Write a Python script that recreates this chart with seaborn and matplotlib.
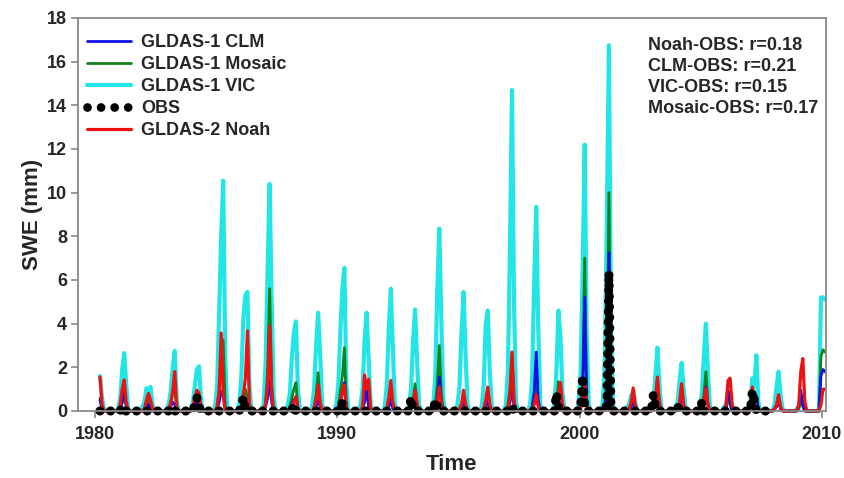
import numpy as np
import pandas as pd
import matplotlib
matplotlib.use("Agg")
import matplotlib.pyplot as plt
from matplotlib.lines import Line2D
import seaborn as sns

nan = np.nan

# Monthly snow water equivalent (mm), one row per year (Jan..Dec), 1980-2009,
# followed by Jan-Feb 2010.
years = list(range(1980, 2010))

vic = [
    [nan, nan, 1.6, 0.6, 0.1, 0, 0, 0, 0, 0, 0, 0.1],
    [0.6, 1.9, 2.65, 1.2, 0.1, 0, 0, 0, 0, 0, 0, 0.2],
    [0.4, 1.05, 0.85, 1.1, 0.3, 0, 0, 0, 0, 0, 0, 0.1],
    [0.3, 0.9, 2.0, 2.75, 0.5, 0, 0, 0, 0, 0, 0, 0.1],
    [0.4, 1.2, 1.9, 2.05, 0.5, 0, 0, 0, 0, 0, 0, 0.2],
    [1.2, 4.5, 8.0, 10.55, 2.5, 0, 0, 0, 0, 0, 0, 0.4],
    [1.6, 4.3, 5.3, 5.45, 1.2, 0, 0, 0, 0, 0, 0, 0.3],
    [2.2, 6.5, 10.4, 5.0, 0.6, 0, 0, 0, 0, 0, 0, 0.3],
    [0.8, 2.4, 3.6, 4.1, 1.0, 0, 0, 0, 0, 0, 0, 0.2],
    [1.0, 3.0, 4.5, 2.6, 0.3, 0, 0, 0, 0, 0, 0, 0.3],
    [1.2, 3.6, 5.6, 6.55, 1.2, 0, 0, 0, 0, 0, 0, 0.3],
    [1.0, 3.2, 4.5, 2.4, 0.3, 0, 0, 0, 0, 0, 0, 0.2],
    [1.2, 3.8, 5.6, 2.8, 0.3, 0, 0, 0, 0, 0, 0, 0.3],
    [1.0, 3.2, 4.65, 2.3, 0.3, 0, 0, 0, 0, 0, 0, 0.2],
    [1.6, 5.5, 8.35, 4.2, 0.5, 0, 0, 0, 0, 0, 0, 0.3],
    [1.1, 3.6, 5.45, 2.6, 0.3, 0, 0, 0, 0, 0, 0, 0.2],
    [1.2, 4.0, 4.6, 1.8, 0.2, 0, 0, 0, 0, 0, 0, 0.3],
    [2.0, 7.5, 14.7, 5.0, 0.4, 0, 0, 0, 0, 0, 0, 0.3],
    [1.6, 6.0, 9.35, 3.8, 0.3, 0, 0, 0, 0, 0, 0, 0.3],
    [1.8, 4.6, 3.4, 0.8, 0.1, 0, 0, 0, 0, 0, 0, 0.4],
    [1.8, 6.5, 12.2, 3.5, 0.3, 0, 0, 0, 0, 0, 0, 0.4],
    [2.5, 9.0, 16.75, 4.0, 0.3, 0, 0, 0, 0, 0, 0, 0.2],
    [0.3, 0.7, 0.9, 0.4, 0, 0, 0, 0, 0, 0, 0, 0.1],
    [0.5, 1.6, 2.9, 1.2, 0.1, 0, 0, 0, 0, 0, 0, 0.2],
    [0.4, 1.4, 2.2, 1.0, 0.1, 0, 0, 0, 0, 0, 0, 0.2],
    [0.8, 2.5, 4.0, 1.8, 0.2, 0, 0, 0, 0, 0, 0, 0.2],
    [0.3, 0.9, 0.6, 0.2, 0, 0, 0, 0, 0, 0, 0, 0],
    [0.4, 1.5, 1.1, 2.55, 0.4, 0, 0, 0, 0, 0, 0, 0],
    [0.3, 1.1, 1.8, 0.7, 0.1, 0, 0, 0, 0, 0, 0, 0.1],
    [0.2, 0.6, 0.4, 0.1, 0, 0, 0, 0, 0, 0, 0, 5.2],
    [5.2, 5.1],
]

mosaic = [
    [nan, nan, 0.6, 0.1, 0, 0, 0, 0, 0, 0, 0, 0],
    [0.1, 0.4, 1.0, 0.2, 0, 0, 0, 0, 0, 0, 0, 0],
    [0.1, 0.3, 0.5, 0.2, 0, 0, 0, 0, 0, 0, 0, 0],
    [0.1, 0.4, 0.8, 1.0, 0.1, 0, 0, 0, 0, 0, 0, 0],
    [0.1, 0.3, 0.7, 0.5, 0, 0, 0, 0, 0, 0, 0, 0],
    [0.2, 1.0, 2.0, 3.25, 0.2, 0, 0, 0, 0, 0, 0, 0],
    [0.2, 0.6, 1.0, 0.6, 0, 0, 0, 0, 0, 0, 0, 0],
    [0.4, 1.8, 5.6, 1.2, 0, 0, 0, 0, 0, 0, 0, 0],
    [0.2, 0.6, 1.0, 1.3, 0.1, 0, 0, 0, 0, 0, 0, 0],
    [0.2, 0.7, 1.75, 0.4, 0, 0, 0, 0, 0, 0, 0, 0],
    [0.2, 0.9, 1.6, 2.9, 0.2, 0, 0, 0, 0, 0, 0, 0],
    [0.2, 0.6, 1.2, 0.4, 0, 0, 0, 0, 0, 0, 0, 0],
    [0.1, 0.4, 0.9, 0.3, 0, 0, 0, 0, 0, 0, 0, 0],
    [0.1, 0.5, 1.25, 0.4, 0, 0, 0, 0, 0, 0, 0, 0],
    [0.3, 1.2, 3.0, 0.8, 0, 0, 0, 0, 0, 0, 0, 0],
    [0.1, 0.3, 0.6, 0.2, 0, 0, 0, 0, 0, 0, 0, 0],
    [0.1, 0.4, 0.9, 0.2, 0, 0, 0, 0, 0, 0, 0, 0],
    [0.3, 1.0, 2.6, 0.5, 0, 0, 0, 0, 0, 0, 0, 0],
    [0.2, 0.6, 1.4, 0.3, 0, 0, 0, 0, 0, 0, 0, 0],
    [0.2, 1.35, 0.6, 0.1, 0, 0, 0, 0, 0, 0, 0, 0],
    [0.3, 1.2, 7.0, 0.4, 0, 0, 0, 0, 0, 0, 0, 0],
    [0.4, 1.5, 10.0, 0.5, 0, 0, 0, 0, 0, 0, 0, 0],
    [0.1, 0.3, 0.5, 0.1, 0, 0, 0, 0, 0, 0, 0, 0],
    [0.1, 0.5, 1.5, 0.3, 0, 0, 0, 0, 0, 0, 0, 0],
    [0.1, 0.4, 1.0, 0.2, 0, 0, 0, 0, 0, 0, 0, 0],
    [0.2, 0.7, 1.8, 0.4, 0, 0, 0, 0, 0, 0, 0, 0],
    [0.1, 0.6, 0.3, 0, 0, 0, 0, 0, 0, 0, 0, 0],
    [0.1, 0.3, 0.4, 0.6, 0.1, 0, 0, 0, 0, 0, 0, 0],
    [0.1, 0.2, 0.4, 0.1, 0, 0, 0, 0, 0, 0, 0, 0],
    [0.1, 0.5, 0.2, 0, 0, 0, 0, 0, 0, 0, 0, 2.5],
    [2.8, 2.7],
]

clm = [
    [nan, nan, 0.5, 0.1, 0, 0, 0, 0, 0, 0, 0, 0],
    [0.1, 0.4, 0.9, 0.2, 0, 0, 0, 0, 0, 0, 0, 0],
    [0.1, 0.2, 0.3, 0.1, 0, 0, 0, 0, 0, 0, 0, 0],
    [0.1, 0.2, 0.4, 0.3, 0, 0, 0, 0, 0, 0, 0, 0],
    [0.1, 0.2, 0.5, 0.3, 0, 0, 0, 0, 0, 0, 0, 0],
    [0.1, 0.4, 0.9, 0.8, 0.1, 0, 0, 0, 0, 0, 0, 0],
    [0.1, 0.3, 0.5, 0.3, 0, 0, 0, 0, 0, 0, 0, 0],
    [0.2, 0.6, 1.4, 0.4, 0, 0, 0, 0, 0, 0, 0, 0],
    [0.1, 0.3, 0.5, 0.65, 0.1, 0, 0, 0, 0, 0, 0, 0],
    [0.1, 0.2, 0.5, 0.2, 0, 0, 0, 0, 0, 0, 0, 0],
    [0.1, 0.4, 0.8, 1.3, 0.1, 0, 0, 0, 0, 0, 0, 0],
    [0.1, 0.4, 0.95, 0.2, 0, 0, 0, 0, 0, 0, 0, 0],
    [0.1, 0.2, 0.5, 0.1, 0, 0, 0, 0, 0, 0, 0, 0],
    [0.1, 0.2, 0.6, 0.2, 0, 0, 0, 0, 0, 0, 0, 0],
    [0.2, 0.6, 1.55, 0.4, 0, 0, 0, 0, 0, 0, 0, 0],
    [0.1, 0.2, 0.4, 0.1, 0, 0, 0, 0, 0, 0, 0, 0],
    [0.1, 0.2, 0.5, 0.1, 0, 0, 0, 0, 0, 0, 0, 0],
    [0.1, 0.4, 1.0, 0.2, 0, 0, 0, 0, 0, 0, 0, 0],
    [0.2, 0.9, 2.7, 0.5, 0, 0, 0, 0, 0, 0, 0, 0],
    [0.1, 0.5, 0.3, 0, 0, 0, 0, 0, 0, 0, 0, 0],
    [0.2, 0.8, 5.2, 0.3, 0, 0, 0, 0, 0, 0, 0, 0],
    [0.3, 1.0, 7.25, 0.4, 0, 0, 0, 0, 0, 0, 0, 0],
    [0.1, 0.2, 0.4, 0.1, 0, 0, 0, 0, 0, 0, 0, 0],
    [0.1, 0.3, 0.9, 0.2, 0, 0, 0, 0, 0, 0, 0, 0],
    [0.1, 0.3, 0.7, 0.1, 0, 0, 0, 0, 0, 0, 0, 0],
    [0.1, 0.4, 1.1, 0.2, 0, 0, 0, 0, 0, 0, 0, 0],
    [0.2, 0.95, 0.4, 0, 0, 0, 0, 0, 0, 0, 0, 0],
    [0.1, 0.2, 0.4, 0.7, 0.1, 0, 0, 0, 0, 0, 0, 0],
    [0.1, 0.2, 0.5, 0.1, 0, 0, 0, 0, 0, 0, 0, 0],
    [0.2, 0.95, 0.3, 0, 0, 0, 0, 0, 0, 0, 0, 1.6],
    [1.9, 1.8],
]

noah = [
    [nan, nan, 1.55, 0.3, 0, 0, 0, 0, 0, 0, 0, 0],
    [0.3, 1.0, 1.42, 0.4, 0, 0, 0, 0, 0, 0, 0, 0],
    [0.1, 0.5, 0.8, 0.5, 0.1, 0, 0, 0, 0, 0, 0, 0],
    [0.1, 0.3, 0.9, 1.8, 0.2, 0, 0, 0, 0, 0, 0, 0],
    [0.2, 0.6, 0.95, 0.8, 0.2, 0, 0, 0, 0, 0, 0, 0],
    [0.2, 0.9, 3.57, 0.7, 0, 0, 0, 0, 0, 0, 0, 0],
    [0.2, 0.8, 1.5, 3.67, 0.3, 0, 0, 0, 0, 0, 0, 0],
    [0.3, 1.2, 3.9, 0.8, 0, 0, 0, 0, 0, 0, 0, 0],
    [0.1, 0.2, 0.4, 0.65, 0.1, 0, 0, 0, 0, 0, 0, 0],
    [0.1, 0.5, 1.2, 0.4, 0, 0, 0, 0, 0, 0, 0, 0],
    [0.1, 0.4, 0.9, 1.2, 0.1, 0, 0, 0, 0, 0, 0, 0],
    [0.2, 1.65, 1.0, 1.45, 0.1, 0, 0, 0, 0, 0, 0, 0],
    [0.1, 0.6, 1.4, 0.4, 0, 0, 0, 0, 0, 0, 0, 0],
    [0.1, 0.3, 0.95, 0.3, 0, 0, 0, 0, 0, 0, 0, 0],
    [0.1, 0.4, 1.1, 0.3, 0, 0, 0, 0, 0, 0, 0, 0],
    [0.1, 0.3, 0.95, 0.3, 0, 0, 0, 0, 0, 0, 0, 0],
    [0.1, 0.5, 1.1, 0.3, 0, 0, 0, 0, 0, 0, 0, 0],
    [0.1, 0.7, 2.7, 0.5, 0, 0, 0, 0, 0, 0, 0, 0],
    [0.1, 0.3, 0.75, 0.2, 0, 0, 0, 0, 0, 0, 0, 0],
    [0.2, 0.8, 1.3, 0.3, 0, 0, 0, 0, 0, 0, 0, 0],
    [0.1, 0.5, 1.3, 0.3, 0, 0, 0, 0, 0, 0, 0, 0],
    [0.1, 0.3, 0.55, 0.1, 0, 0, 0, 0, 0, 0, 0, 0],
    [0.1, 0.4, 1.05, 0.3, 0, 0, 0, 0, 0, 0, 0, 0],
    [0.1, 0.5, 1.55, 0.4, 0, 0, 0, 0, 0, 0, 0, 0],
    [0.1, 0.4, 1.25, 0.3, 0, 0, 0, 0, 0, 0, 0, 0],
    [0.1, 0.4, 1.05, 0.3, 0, 0, 0, 0, 0, 0, 0, 0],
    [0.3, 1.4, 1.5, 0.3, 0, 0, 0, 0, 0, 0, 0, 0],
    [0.2, 1.1, 0.5, 0.1, 0, 0, 0, 0, 0, 0, 0, 0],
    [0.1, 0.3, 0.75, 0.2, 0, 0, 0, 0, 0, 0, 0, 0],
    [0.3, 1.8, 2.4, 0.4, 0, 0, 0, 0, 0, 0, 0, 0.3],
    [1.0, 1.0],
]

obs = [
    [nan, nan, 0, 0, 0, 0, 0, 0, 0, 0, 0, 0],
    [0, 0.2, 0, 0, 0, 0, 0, 0, 0, 0, 0, 0],
    [0, 0, 0, 0, 0, 0, 0, 0, 0, 0, 0, 0],
    [0, 0, 0.15, 0, 0, 0, 0, 0, 0, 0, 0, 0],
    [0, 0.3, 0.6, 0.2, 0, 0, 0, 0, 0, 0, 0, 0],
    [0, 0, 0, 0, 0, 0, 0, 0, 0, 0, 0, 0],
    [0.3, 0.6, 0.1, 0, 0, 0, 0, 0, 0, 0, 0, 0],
    [0, 0, 0, 0, 0, 0, 0, 0, 0, 0, 0, 0],
    [0, 0, 0.3, 0, 0, 0, 0, 0, 0, 0, 0, 0],
    [0, 0, 0, 0, 0, 0, 0, 0, 0, 0, 0, 0],
    [0, 0, 0.4, 0, 0, 0, 0, 0, 0, 0, 0, 0],
    [0, 0, 0, 0, 0, 0, 0, 0, 0, 0, 0, 0],
    [0, 0, 0, 0, 0, 0, 0, 0, 0, 0, 0, 0],
    [0.6, 0.1, 0, 0, 0, 0, 0, 0, 0, 0, 0, 0],
    [0.5, 0.2, 0, 0, 0, 0, 0, 0, 0, 0, 0, 0],
    [0, 0, 0, 0, 0, 0, 0, 0, 0, 0, 0, 0],
    [0, 0, 0, 0, 0, 0, 0, 0, 0, 0, 0, 0],
    [0, 0, 0.2, 0, 0, 0, 0, 0, 0, 0, 0, 0],
    [0, 0, 0, 0, 0, 0, 0, 0, 0, 0, 0, 0],
    [0.8, 0.2, 0, 0, 0, 0, 0, 0, 0, 0, 0, 0],
    [0.2, 1.6, 0.2, 0, 0, 0, 0, 0, 0, 0, 0, 0],
    [0, 0.3, 6.35, 0.2, 0, 0, 0, 0, 0, 0, 0, 0],
    [0, 0, 0, 0, 0, 0, 0, 0, 0, 0, 0, 0],
    [0.75, 0.2, 0, 0, 0, 0, 0, 0, 0, 0, 0, 0],
    [0.2, 0, 0, 0, 0, 0, 0, 0, 0, 0, 0, 0],
    [0.4, 0, 0, 0, 0, 0, 0, 0, 0, 0, 0, 0],
    [0, 0, 0, 0, 0, 0, 0, 0, 0, 0, 0, 0],
    [0, 0.9, 0.5, 0, 0, 0, 0, 0, 0, 0, 0, 0],
    [nan] * 12,
    [nan] * 12,
    [nan, nan],
]

correlations = ["Noah-OBS: r=0.18", "CLM-OBS: r=0.21",
                "VIC-OBS: r=0.15", "Mosaic-OBS: r=0.17"]


def monthly_frame(rows):
    values = [v for row in rows for v in row]
    t = 1980 + (np.arange(len(values)) + 0.5) / 12.0
    df = pd.DataFrame({"Time": t, "SWE": values})
    return df.dropna()


sns.set_style("white")
plt.rcParams["font.family"] = ["Liberation Sans", "DejaVu Sans"]
plt.rcParams["font.weight"] = "bold"
plt.rcParams["axes.labelweight"] = "bold"

fig = plt.figure(figsize=(8.45, 4.78), dpi=100)
ax = fig.add_axes([0.0923, 0.1402, 0.8852, 0.8222])

common = dict(x="Time", y="SWE", ax=ax, estimator=None, sort=True)

styles = {
    "GLDAS-1 VIC": dict(color="#22E6E6", lw=3.0),
    "GLDAS-1 Mosaic": dict(color="#13821A", lw=2.0),
    "GLDAS-1 CLM": dict(color="#1111E6", lw=2.0),
    "OBS": dict(color="black", lw=6.6, linestyle=(0, (0.001, 1.15)),
                dash_capstyle="round"),
    "GLDAS-2 Noah": dict(color="#EE1111", lw=2.3),
}
series = [("GLDAS-1 VIC", vic), ("GLDAS-1 Mosaic", mosaic),
          ("GLDAS-1 CLM", clm), ("GLDAS-2 Noah", noah), ("OBS", obs)]

for name, rows in series:
    sns.lineplot(data=monthly_frame(rows), label=name, **styles[name],
                 **common)

# let the lines sit on the x axis without being cut in half
for line in ax.lines:
    line.set_clip_on(False)

ax.set_xlim(1979.30, 2010.165)
ax.set_ylim(0, 18)
ax.set_xticks([1980, 1990, 2000, 2010])
ax.set_yticks(np.arange(0, 19, 2))
ax.set_xlabel("Time", fontsize=16, fontweight="bold", labelpad=8)
ax.set_ylabel("SWE (mm)", fontsize=16, fontweight="bold", labelpad=3)

for side in ["left", "right", "top", "bottom"]:
    ax.spines[side].set_visible(True)
    ax.spines[side].set_color("#888888")
    ax.spines[side].set_linewidth(1.3)
ax.tick_params(axis="both", which="major", direction="out", length=5,
               width=1.2, color="#888888", labelsize=13,
               left=True, bottom=True, right=False, top=False)
ax.tick_params(axis="x", pad=6)
ax.tick_params(axis="y", pad=3)
for lab in ax.get_xticklabels() + ax.get_yticklabels():
    lab.set_fontweight("bold")

order = ["GLDAS-1 CLM", "GLDAS-1 Mosaic", "GLDAS-1 VIC", "OBS", "GLDAS-2 Noah"]
legend_handles = []
for name in order:
    st = dict(styles[name])
    if name == "OBS":
        st["lw"] = 6.3
        st["linestyle"] = (0, (0.001, 1.55))
    legend_handles.append(Line2D([], [], **st))
leg = ax.legend(legend_handles, order, loc="upper left",
                bbox_to_anchor=(0.012, 0.958), frameon=False, borderpad=0,
                borderaxespad=0, handlelength=2.45, handletextpad=0.55,
                labelspacing=0.27, prop={"size": 13, "weight": "bold"})

ax.text(0.762, 0.952, "\n".join(correlations), transform=ax.transAxes,
        ha="left", va="top", fontsize=13, fontweight="bold",
        linespacing=1.3)

fig.savefig("out.png", dpi=100)
